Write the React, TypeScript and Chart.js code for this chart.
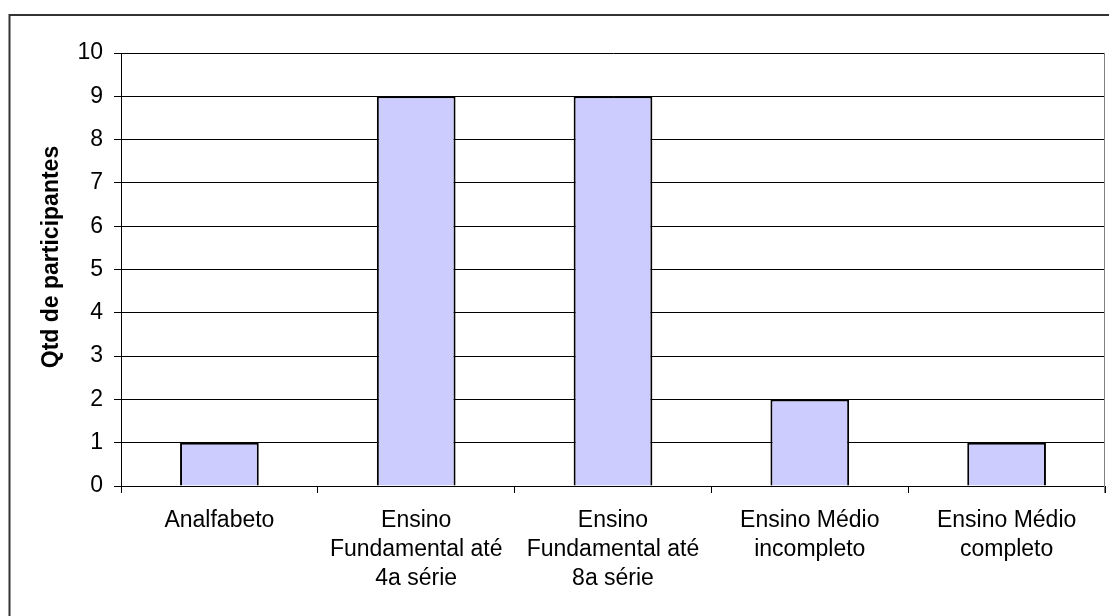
import React, { useEffect, useRef } from "react";
import { Chart, registerables } from "chart.js";

Chart.register(...registerables);

const categories: string[][] = [
  ["Analfabeto"],
  ["Ensino", "Fundamental até", "4a série"],
  ["Ensino", "Fundamental até", "8a série"],
  ["Ensino Médio", "incompleto"],
  ["Ensino Médio", "completo"],
];
const participantes: number[] = [1, 9, 9, 2, 1];
const yTitle = "Qtd de participantes";
const yMin = 0;
const yMax = 10;
const yStep = 1;

const FONT = "'Liberation Sans', Arial, sans-serif";

const framePlugin = {
  id: "frame",
  beforeDraw(chart: any) {
    const ctx = chart.ctx;
    ctx.save();
    ctx.fillStyle = "#ffffff";
    ctx.fillRect(0, 0, chart.width, chart.height);
    ctx.fillStyle = "#333333";
    ctx.fillRect(9, 14, chart.width - 9, 2);
    ctx.fillRect(8.5, 14, 2, chart.height - 14);
    ctx.restore();
  },
  afterDatasetsDraw(chart: any) {
    const { ctx, chartArea } = chart;
    ctx.save();
    ctx.strokeStyle = "#808080";
    ctx.lineWidth = 1;
    ctx.beginPath();
    ctx.moveTo(chartArea.right - 0.5, chartArea.top);
    ctx.lineTo(chartArea.right - 0.5, chartArea.bottom + 7);
    ctx.stroke();
    ctx.restore();
  },
  afterDraw(chart: any) {
    const ctx = chart.ctx;
    ctx.save();
    ctx.translate(52, 257);
    ctx.rotate(-Math.PI / 2);
    ctx.font = `bold 23px ${FONT}`;
    ctx.fillStyle = "#000000";
    ctx.textAlign = "center";
    ctx.textBaseline = "middle";
    ctx.fillText(yTitle, 0, 0);
    ctx.restore();
  },
};

export default function App() {
  const ref = useRef<HTMLCanvasElement | null>(null);

  useEffect(() => {
    if (!ref.current) return;
    const chart = new Chart(ref.current, {
      type: "bar",
      data: {
        labels: categories,
        datasets: [
          {
            data: participantes,
            backgroundColor: "#CCCCFF",
            borderColor: "#000000",
            borderWidth: 2,
            barPercentage: 0.4,
            categoryPercentage: 1,
          },
        ],
      },
      options: {
        animation: false,
        responsive: false,
        maintainAspectRatio: false,
        layout: { padding: { top: 53, right: 4, left: 0, bottom: 0 } },
        plugins: {
          legend: { display: false },
          tooltip: { enabled: false },
          title: { display: false },
        },
        scales: {
          x: {
            afterFit: (s: any) => {
              s.height = 130;
            },
            grid: {
              display: true,
              drawOnChartArea: false,
              drawTicks: true,
              tickLength: 7,
              color: "#000000",
              offset: true,
            },
            border: { display: true, color: "#000000", width: 1 },
            ticks: {
              color: "#000000",
              font: { family: FONT, size: 23, lineHeight: 1.27 },
              padding: 13,
              maxRotation: 0,
              minRotation: 0,
              autoSkip: false,
            },
          },
          y: {
            min: yMin,
            max: yMax,
            afterFit: (s: any) => {
              s.width = 121;
            },
            grid: {
              color: "#000000",
              lineWidth: 1,
              drawTicks: true,
              tickLength: 7,
            },
            border: { display: true, color: "#000000", width: 1 },
            ticks: {
              stepSize: yStep,
              color: "#000000",
              font: { family: FONT, size: 23 },
              padding: 11,
            },
            title: { display: false },
          },
        },
      },
      plugins: [framePlugin],
    });
    return () => chart.destroy();
  }, []);

  return (
    <div style={{ position: "fixed", left: 0, top: 0, width: 1109, height: 616, background: "#fff" }}>
      <canvas ref={ref} width={1109} height={616} style={{ display: "block" }} />
    </div>
  );
}
